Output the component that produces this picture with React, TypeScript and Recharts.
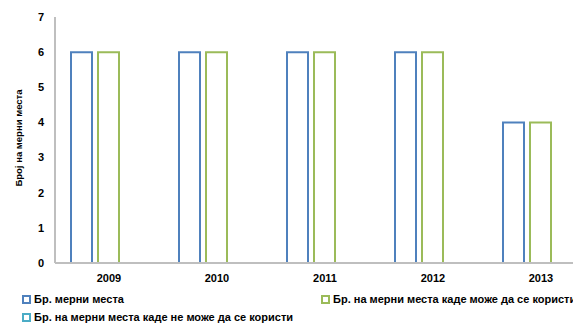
import { BarChart, Bar, XAxis, YAxis } from 'recharts';

const years = ['2009', '2010', '2011', '2012', '2013'];
const totalSites = [6, 6, 6, 6, 4];
const usableSites = [6, 6, 6, 6, 4];
const unusableSites = [0, 0, 0, 0, 0];
const yTicks = [0, 1, 2, 3, 4, 5, 6, 7];

const SERIES = [
  { key: 'total', name: 'Бр. мерни места', color: '#4F81BD' },
  { key: 'usable', name: 'Бр. на мерни места каде може да се користи', color: '#9BBB59' },
  { key: 'unusable', name: 'Бр. на мерни места каде не може да се користи', color: '#4BACC6' },
];

const data = years.map((y, i) => ({
  year: y,
  total: totalSites[i],
  usable: usableSites[i],
  unusable: unusableSites[i],
}));

const FONT = '"Liberation Sans", Arial, sans-serif';
const tickStyle = { fontFamily: FONT, fontSize: 11, fontWeight: 700, fill: '#000' };

const LegendItem = ({ color, name, left, top }: any) => (
  <div style={{ position: 'absolute', left, top, display: 'flex', alignItems: 'center', whiteSpace: 'nowrap' }}>
    <div style={{ width: 5, height: 5, border: `2px solid ${color}`, background: '#fff', marginRight: 3 }} />
    <span style={{ fontFamily: FONT, fontSize: 11, fontWeight: 700, color: '#000' }}>{name}</span>
  </div>
);

const YLabel = ({ viewBox }: any) => {
  const cy = viewBox.y + viewBox.height / 2 - 2;
  return (
    <text x={18} y={cy} transform={`rotate(-90, 18, ${cy})`} textAnchor="middle" dominantBaseline="central"
      style={{ fontFamily: FONT, fontSize: 9.5, fontWeight: 700, fill: '#000' }}>
      Број на мерни места
    </text>
  );
};

export default function App() {
  return (
    <div style={{ position: 'fixed', left: 0, top: 0, width: 573, height: 325, overflow: 'hidden', background: '#fff' }}>
      <BarChart width={595} height={293} data={data} margin={{ top: 17, right: 0, bottom: 0, left: 0 }}
        barCategoryGap={16} barGap={6}>
        <XAxis dataKey="year" axisLine={{ stroke: '#BFBFBF', strokeWidth: 2 }} tickLine={false}
          tickSize={0} tickMargin={11} tick={tickStyle} height={30} interval={0} />
        <YAxis domain={[0, 7]} ticks={yTicks} axisLine={{ stroke: '#BFBFBF', strokeWidth: 2 }} tickLine={false}
          tickSize={0} tickMargin={11} tick={tickStyle} width={55} interval={0}
          label={<YLabel />} />
        {SERIES.map(s => (
          <Bar key={s.key} dataKey={s.key} name={s.name} fill="#fff" stroke={s.color} strokeWidth={2}
            isAnimationActive={false} />
        ))}
      </BarChart>
      <LegendItem color={SERIES[0].color} name={SERIES[0].name} left={22} top={293} />
      <LegendItem color={SERIES[1].color} name={SERIES[1].name} left={321} top={293} />
      <LegendItem color={SERIES[2].color} name={SERIES[2].name} left={22} top={311} />
    </div>
  );
}
